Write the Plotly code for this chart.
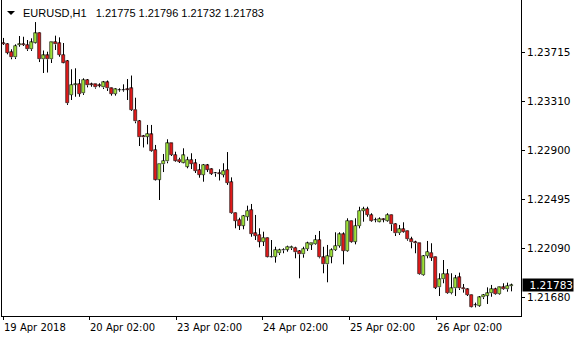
import plotly.graph_objects as go

symbol = "EURUSD"
timeframe = "H1"

opens = [1.23793, 1.23785, 1.23718, 1.23674, 1.23777, 1.23785, 1.23777, 1.23741, 1.23796, 1.23876,
         1.23658, 1.23691, 1.23658, 1.23801, 1.23791, 1.23694, 1.23644, 1.23362, 1.23445, 1.23453,
         1.23376, 1.23486, 1.23449, 1.23450, 1.23442, 1.23424, 1.23467, 1.23417, 1.23370, 1.23403,
         1.23403, 1.23411, 1.23417, 1.23241, 1.23146, 1.23021, 1.23015, 1.23035, 1.22905, 1.22660,
         1.22786, 1.22810, 1.22961, 1.22864, 1.22826, 1.22801, 1.22768, 1.22822, 1.22795, 1.22739,
         1.22698, 1.22778, 1.22745, 1.22714, 1.22710, 1.22698, 1.22739, 1.22639, 1.22382, 1.22324,
         1.22277, 1.22351, 1.22407, 1.22214, 1.22200, 1.22144, 1.22177, 1.22021, 1.22019, 1.22048,
         1.22071, 1.22079, 1.22089, 1.22094, 1.22067, 1.22039, 1.22083, 1.22117, 1.22122, 1.22158,
         1.22014, 1.21956, 1.22019, 1.22075, 1.22108, 1.22205, 1.22067, 1.22316, 1.22144, 1.22274,
         1.22399, 1.22415, 1.22366, 1.22324, 1.22310, 1.22330, 1.22318, 1.22366, 1.22291, 1.22214,
         1.22249, 1.22233, 1.22164, 1.22141, 1.22131, 1.21868, 1.22025, 1.22053, 1.22019, 1.21765,
         1.21832, 1.21876, 1.21716, 1.21757, 1.21848, 1.21762, 1.21749, 1.21702, 1.21619, 1.21613,
         1.21682, 1.21696, 1.21716, 1.21751, 1.21707, 1.21765, 1.21749, 1.21775]

highs = [1.23835, 1.23791, 1.23741, 1.23782, 1.23851, 1.23845, 1.23818, 1.23832, 1.23967, 1.23880,
         1.23731, 1.23721, 1.23801, 1.23854, 1.23840, 1.23793, 1.23652, 1.23575, 1.23583, 1.23494,
         1.23500, 1.23494, 1.23464, 1.23453, 1.23459, 1.23478, 1.23482, 1.23422, 1.23417, 1.23417,
         1.23450, 1.23494, 1.23523, 1.23339, 1.23154, 1.23030, 1.23113, 1.23113, 1.22947, 1.22786,
         1.22872, 1.22994, 1.22963, 1.22891, 1.22841, 1.22919, 1.22849, 1.22878, 1.22830, 1.22789,
         1.22789, 1.22789, 1.22753, 1.22722, 1.22745, 1.22795, 1.22888, 1.22678, 1.22385, 1.22343,
         1.22366, 1.22443, 1.22457, 1.22366, 1.22255, 1.22227, 1.22180, 1.22158, 1.22102, 1.22086,
         1.22089, 1.22111, 1.22111, 1.22102, 1.22075, 1.22102, 1.22144, 1.22131, 1.22200, 1.22233,
         1.22102, 1.22117, 1.22089, 1.22222, 1.22222, 1.22222, 1.22338, 1.22318, 1.22338, 1.22434,
         1.22434, 1.22434, 1.22380, 1.22343, 1.22346, 1.22338, 1.22380, 1.22368, 1.22297, 1.22283,
         1.22305, 1.22235, 1.22185, 1.22152, 1.22133, 1.22033, 1.22150, 1.22131, 1.22021, 1.21882,
         1.21992, 1.21917, 1.21882, 1.21868, 1.21887, 1.21793, 1.21757, 1.21704, 1.21638, 1.21693,
         1.21710, 1.21765, 1.21785, 1.21762, 1.21770, 1.21799, 1.21804, 1.21796]

lows = [1.23777, 1.23699, 1.23658, 1.23660, 1.23762, 1.23768, 1.23727, 1.23727, 1.23789, 1.23635,
        1.23544, 1.23548, 1.23627, 1.23735, 1.23679, 1.23625, 1.23279, 1.23320, 1.23347, 1.23347,
        1.23362, 1.23425, 1.23430, 1.23414, 1.23425, 1.23411, 1.23395, 1.23356, 1.23356, 1.23389,
        1.23389, 1.23320, 1.23229, 1.23127, 1.22938, 1.22926, 1.22952, 1.22891, 1.22652, 1.22490,
        1.22722, 1.22795, 1.22855, 1.22808, 1.22797, 1.22795, 1.22753, 1.22747, 1.22714, 1.22675,
        1.22642, 1.22722, 1.22698, 1.22683, 1.22652, 1.22678, 1.22615, 1.22374, 1.22255, 1.22241,
        1.22247, 1.22318, 1.22185, 1.22158, 1.22097, 1.22108, 1.22014, 1.22014, 1.21970, 1.22033,
        1.22048, 1.22061, 1.22075, 1.22006, 1.21840, 1.22011, 1.22067, 1.22075, 1.22117, 1.22006,
        1.21882, 1.21807, 1.21965, 1.22067, 1.22094, 1.21956, 1.22061, 1.22136, 1.22122, 1.22255,
        1.22310, 1.22351, 1.22310, 1.22305, 1.22305, 1.22305, 1.22310, 1.22233, 1.22191, 1.22200,
        1.22219, 1.22152, 1.22089, 1.22048, 1.21868, 1.21862, 1.22006, 1.21984, 1.21751, 1.21693,
        1.21799, 1.21710, 1.21707, 1.21693, 1.21743, 1.21721, 1.21693, 1.21599, 1.21599, 1.21604,
        1.21668, 1.21627, 1.21687, 1.21702, 1.21702, 1.21743, 1.21729, 1.21732]

closes = [1.23785, 1.23713, 1.23674, 1.23768, 1.23785, 1.23777, 1.23741, 1.23799, 1.23874, 1.23658,
          1.23691, 1.23658, 1.23799, 1.23781, 1.23694, 1.23631, 1.23293, 1.23445, 1.23449, 1.23370,
          1.23486, 1.23442, 1.23445, 1.23424, 1.23440, 1.23467, 1.23417, 1.23370, 1.23409, 1.23401,
          1.23401, 1.23407, 1.23237, 1.23142, 1.23010, 1.23009, 1.23038, 1.22899, 1.22660, 1.22786,
          1.22814, 1.22961, 1.22864, 1.22816, 1.22808, 1.22861, 1.22822, 1.22791, 1.22731, 1.22700,
          1.22781, 1.22742, 1.22708, 1.22710, 1.22706, 1.22731, 1.22631, 1.22380, 1.22316, 1.22277,
          1.22357, 1.22401, 1.22208, 1.22191, 1.22144, 1.22177, 1.22019, 1.22019, 1.22075, 1.22075,
          1.22079, 1.22102, 1.22102, 1.22056, 1.22039, 1.22083, 1.22131, 1.22129, 1.22158, 1.22014,
          1.21956, 1.22025, 1.22075, 1.22108, 1.22205, 1.22067, 1.22316, 1.22144, 1.22274, 1.22401,
          1.22415, 1.22366, 1.22318, 1.22322, 1.22332, 1.22328, 1.22366, 1.22288, 1.22214, 1.22249,
          1.22227, 1.22164, 1.22139, 1.22131, 1.21873, 1.22025, 1.22058, 1.22011, 1.21762, 1.21832,
          1.21876, 1.21716, 1.21757, 1.21840, 1.21757, 1.21749, 1.21702, 1.21604, 1.21617, 1.21682,
          1.21702, 1.21716, 1.21751, 1.21707, 1.21765, 1.21749, 1.21776, 1.21783]

bars = list(range(len(opens)))

x_tick_pos = [-0.1, 21.4, 43.2, 64.7, 86.4, 108.2]
x_tick_text = ["19 Apr 2018", "20 Apr 02:00", "23 Apr 02:00", "24 Apr 02:00", "25 Apr 02:00", "26 Apr 02:00"]
y_tick_vals = [1.23715, 1.23310, 1.22900, 1.22495, 1.22090, 1.21680]
y_tick_text = ["1.23715", "1.23310", "1.22900", "1.22495", "1.22090", "1.21680"]

W, H = 580, 340
ML, MR, MT, MB = 2, 59, 0, 24
PW = W - ML - MR
PH = H - MT - MB
X0 = -0.375
XR = [X0, X0 + PW / 4.0]
YR = [1.215272, 1.2415]

UP = "#9ee23a"
DOWN = "#e01b1b"

# derived candle geometry from OHLC data
body_lo = [min(o, c) for o, c in zip(opens, closes)]
body_hi = [max(o, c) for o, c in zip(opens, closes)]
body_h = [hi - lo for lo, hi in zip(body_lo, body_hi)]
body_col = [UP if c >= o else DOWN for o, c in zip(opens, closes)]

# wicks outside the body (line layer sits above the bars)
wx, wy = [], []
for i in bars:
    if highs[i] > body_hi[i]:
        wx += [i, i, None]
        wy += [body_hi[i], highs[i], None]
    if lows[i] < body_lo[i]:
        wx += [i, i, None]
        wy += [lows[i], body_lo[i], None]

fig = go.Figure()
fig.add_trace(go.Bar(x=bars, y=body_h, base=body_lo, width=0.75,
                     marker=dict(color=body_col, line=dict(color="black", width=0.6)),
                     hoverinfo="skip", showlegend=False))
fig.add_trace(go.Scatter(x=wx, y=wy, mode="lines", line=dict(color="black", width=1),
                         hoverinfo="skip", showlegend=False, connectgaps=False))

axis_font = dict(family="DejaVu Sans", size=10, color="black")

fig.update_layout(
    width=W, height=H,
    margin=dict(l=ML, r=MR, t=MT, b=MB, pad=0),
    paper_bgcolor="white", plot_bgcolor="white",
    showlegend=False,
    barmode="overlay", bargap=0, bargroupgap=0,
    xaxis=dict(range=XR,
               showgrid=False, zeroline=False, showline=True, linecolor="black", linewidth=1,
               ticks="outside", ticklen=3, tickcolor="black", tickwidth=1,
               tickmode="array", tickvals=x_tick_pos, showticklabels=False),
    yaxis=dict(range=YR, side="right",
               showgrid=False, zeroline=False, showline=True, mirror=True,
               linecolor="black", linewidth=1,
               ticks="outside", ticklen=3, tickcolor="black", tickwidth=1,
               tickmode="array", tickvals=y_tick_vals, ticktext=y_tick_text,
               tickfont=dict(family="DejaVu Sans", size=10.5, color="black")),
)

annotations = []
for pos, txt in zip(x_tick_pos, x_tick_text):
    annotations.append(dict(x=pos, xref="x", y=0, yref="paper", xanchor="left", yanchor="top",
                            yshift=-4, xshift=-1, text=txt, showarrow=False, font=axis_font))

title_txt = f"{symbol},{timeframe}\u00a0\u00a0\u00a0{opens[-1]:.5f} {highs[-1]:.5f} {lows[-1]:.5f} {closes[-1]:.5f}"
annotations.append(dict(x=(21 - ML) / PW, xref="paper", y=1 - 13 / PH, yref="paper",
                        xanchor="left", yanchor="middle", text=title_txt, showarrow=False,
                        font=dict(family="Liberation Sans", size=11, color="black")))

annotations.append(dict(x=1, xref="paper", y=closes[-1], yref="y", xanchor="left", yanchor="middle",
                        xshift=1, text=f"{closes[-1]:.5f}", showarrow=False, bgcolor="black",
                        width=50, height=12, borderpad=0, align="right",
                        font=dict(family="DejaVu Sans", size=10.5, color="white")))

fig.update_layout(annotations=annotations)

fig.add_shape(type="path", xref="paper", yref="paper",
              path=f"M {(7 - ML) / PW},{1 - 11 / PH} L {(15 - ML) / PW},{1 - 11 / PH} L {(11 - ML) / PW},{1 - 15 / PH} Z",
              fillcolor="black", line=dict(width=0))

fig.write_html("out.html", config={"displayModeBar": False})
